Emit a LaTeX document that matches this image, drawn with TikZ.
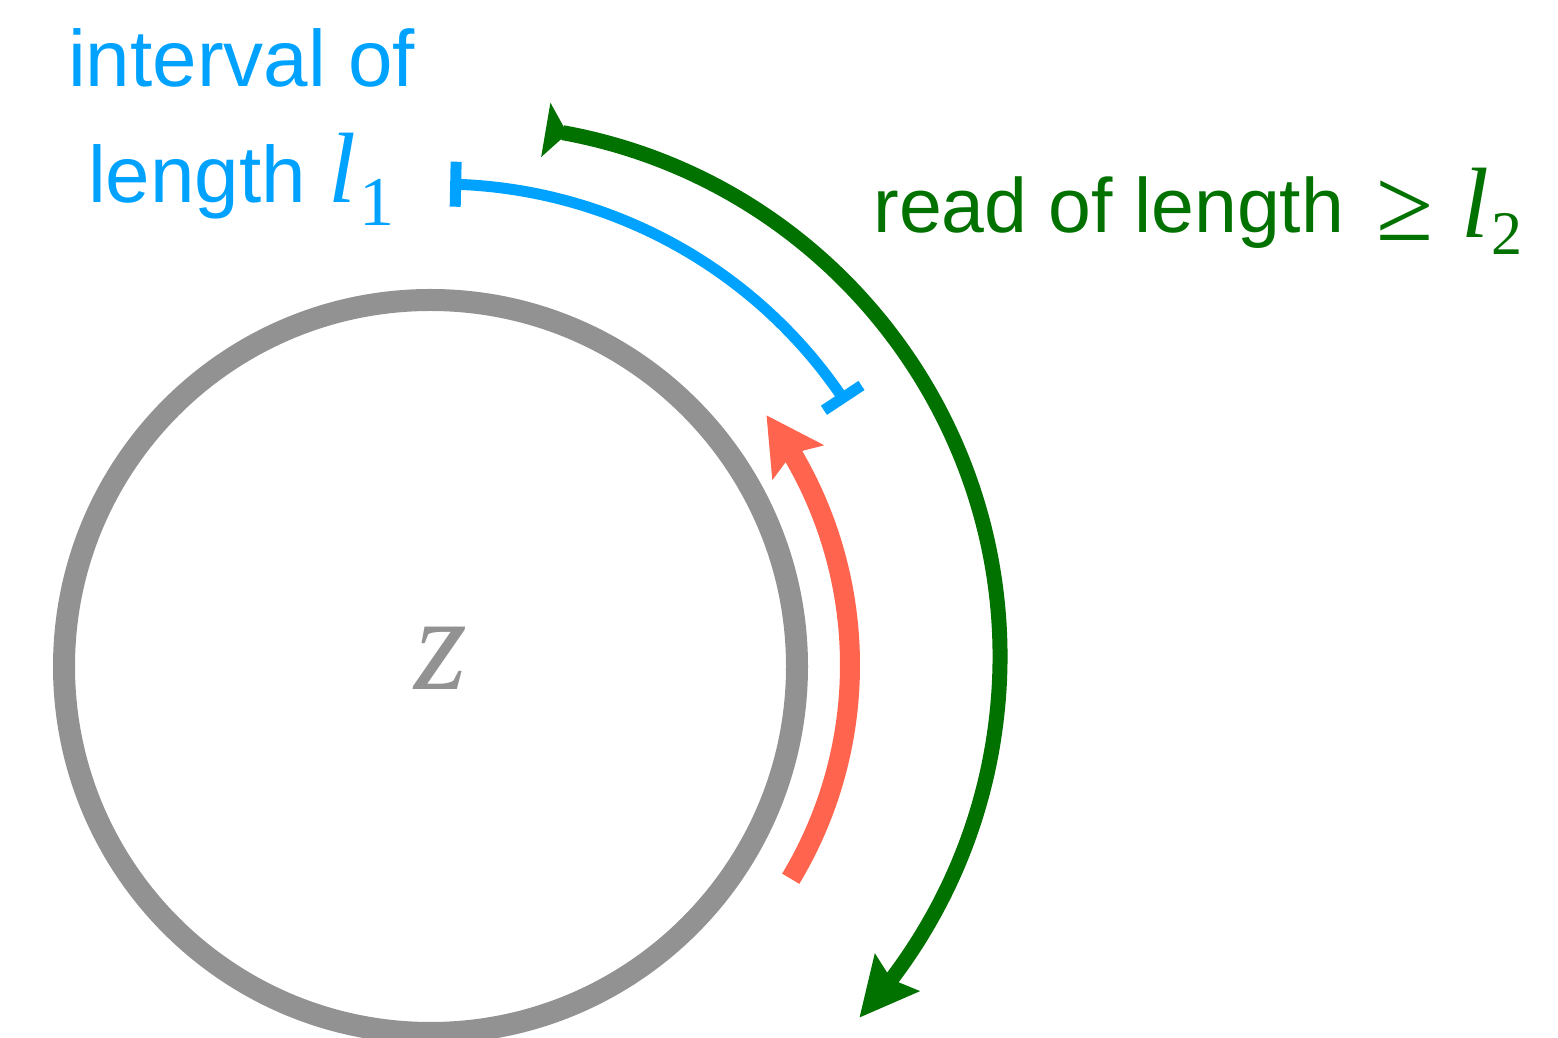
\documentclass[tikz,border=0pt]{standalone}
\usepackage{fontspec}
\setsansfont{Liberation Sans}
\newfontfamily\tms{Liberation Serif}
\usetikzlibrary{arrows.meta,bending,calc}

\definecolor{ringgray}{HTML}{929292}
\definecolor{intblue}{HTML}{00A2FF}
\definecolor{readgreen}{HTML}{017100}
\definecolor{segred}{HTML}{FF644E}

\begin{document}
\begin{tikzpicture}[
  x=0.5pt, y=0.5pt,
  bluelab/.style={text=intblue, font=\sffamily\fontsize{40}{48}\selectfont, inner sep=0pt, anchor=base},
  greenlab/.style={text=readgreen, font=\sffamily\fontsize{38.5}{46}\selectfont, inner sep=0pt, anchor=base west},
  ring/.style={draw=ringgray, line width=11pt},
  interval/.style={draw=intblue, line width=5.5pt, {Bar[width=22.5pt]}-{Bar[width=22.5pt]}},
  segment/.style={draw=segred, line width=10pt, -{Stealth[length=28pt, width=30pt, inset=5pt, flex]}},
  readarc/.style={draw=readgreen, line width=7.5pt, {Triangle[reversed, length=11pt, width=27pt, flex]}-{Stealth[length=29pt, width=28pt, inset=4pt, flex]}},
]
  \useasboundingbox (0,0) rectangle (1558,1038);

  % the circle z
  \coordinate (zc) at (430.5,371.5);
  \draw[ring] (zc) circle[radius=366.5];
  \node[text=ringgray, inner sep=0pt, anchor=base] (zlab) at (441,348) {\tms\itshape\fontsize{68}{72}\selectfont z};

  % arc centres
  \coordinate (bc) at (440,368);
  \coordinate (rc) at (435,373);
  \coordinate (gc) at (467,381);

  % interval, segment and read
  \draw[interval] ($(bc)+(88.8:486)$) arc[start angle=88.8, end angle=33.4, radius=486];
  \draw[segment] ($(rc)+(-31:415)$) arc[start angle=-31, end angle=37, radius=415];
  \draw[readarc] ($(gc)+(81.5:533)$) arc[start angle=81.5, end angle=-42.6, radius=533];

  % labels
  \node[bluelab] (intv1) at (241.5,951) {interval of};
  \node[bluelab] (intv2) at (241.5,835) {length {\tms\itshape\fontsize{50}{56}\selectfont l}\hspace{2pt}\raisebox{-11.5pt}{\tms\fontsize{35}{40}\selectfont 1}};
  \node[greenlab] (readlab) at (873,805) {read of length\hspace{16pt}\raisebox{-4pt}{\tms\fontsize{52}{56}\selectfont ≥}\hspace{14pt}\raisebox{-2.5pt}{\tms\itshape\fontsize{50}{56}\selectfont l}\hspace{1pt}\raisebox{-11pt}{\tms\fontsize{31}{34}\selectfont 2}};
\end{tikzpicture}
\end{document}
